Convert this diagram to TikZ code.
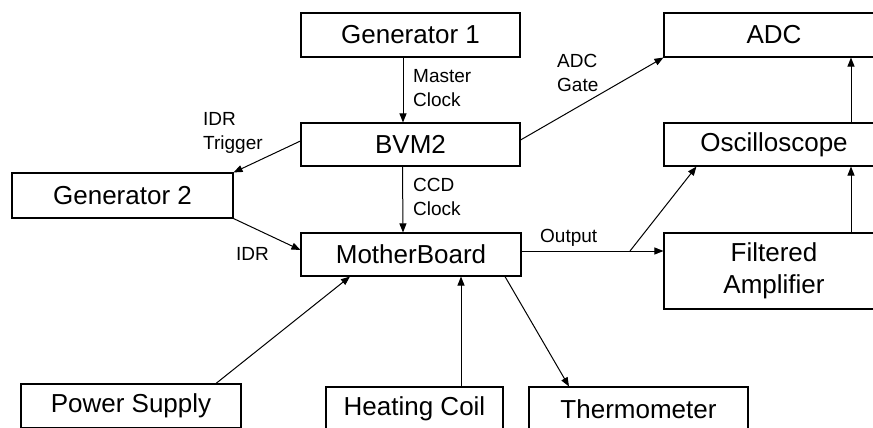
\documentclass[tikz,border=0pt]{standalone}
\usepackage{fontspec}
\setmainfont{Liberation Sans}
\usetikzlibrary{arrows.meta,calc}
\begin{document}
\begin{tikzpicture}[x=1pt,y=-1pt,
  box/.style={draw,line width=1.1pt,inner sep=0pt,minimum width=220pt,minimum height=44pt,
    font=\fontsize{26}{32}\selectfont,align=center},
  lbl/.style={inner sep=0pt,anchor=north west,align=left,font=\fontsize{19}{24}\selectfont},
  arr/.style={line width=1pt,-{Triangle[length=9pt,width=7pt]}},
  ln/.style={line width=1pt}]
\clip (0,0) rectangle (873,428);
\fill[white] (0,0) rectangle (873,428);
% boxes
\node[box,minimum width=219pt] (gen1) at (410.5,35) {Generator 1};
\node[box,minimum width=219pt,minimum height=43pt] (bvm) at (410.5,144.5) {BVM2};
\node[box,minimum width=221pt,minimum height=45pt] (gen2) at (122.5,195.5) {Generator 2};
\node[box,minimum height=43pt] (mb) at (411,254.5) {MotherBoard};
\node[box] (adc) at (774,35) {ADC};
\node[box,minimum height=43pt] (osc) at (774,144.5) {Oscilloscope};
\node[box,minimum height=76pt] (fa) at (774,271) {Filtered\\Amplifier};
\node[box] (ps) at (131,406) {Power Supply};
\node[box,minimum width=177pt] (hc) at (414.5,409) {Heating Coil};
\node[box,minimum width=219pt] (th) at (638.5,409) {Thermometer};
% labels
\node[lbl] (lmc) at (413,69) {Master\\Clock};
\node[lbl] (lcc) at (413,178) {CCD\\Clock};
\node[lbl] (lit) at (203,112) {IDR\\Trigger};
\node[lbl] (lidr) at (236,247) {IDR};
\node[lbl] (lag) at (557,54) {ADC\\Gate};
\node[lbl] (lout) at (540,229) {Output};
% connectors
\draw[arr] ([xshift=-7.5pt]gen1.south) -- ([xshift=-7.5pt]bvm.north);
\draw[arr] ([xshift=-8pt]bvm.south) -- ([xshift=-8pt]mb.north);
\draw[arr] ([yshift=3.5pt]bvm.west) -- (gen2.north east);
\draw[arr] (gen2.south east) -- ([yshift=4.5pt]mb.west);
\draw[arr] ([yshift=4.5pt]bvm.east) -- (adc.south west);
\draw[arr] ([yshift=3.5pt]mb.east) coordinate (o1) -- (o1 -| fa.west);
\coordinate (br) at (630,251);
\draw[arr] (br) -- ([xshift=33pt]osc.south west);
\draw[arr] ([xshift=77pt]fa.north) -- ([xshift=77pt]osc.south);
\draw[arr] ([xshift=77pt]osc.north) -- ([xshift=77pt]adc.south);
\draw[arr] ([xshift=85pt]ps.north) -- ([xshift=-61pt]mb.south);
\draw[arr] ([xshift=46.5pt]hc.north) coordinate (h1) -- (h1 |- mb.south);
\draw[arr] ([xshift=94pt]mb.south) -- ([xshift=-69.5pt]th.north);
\end{tikzpicture}
\end{document}
